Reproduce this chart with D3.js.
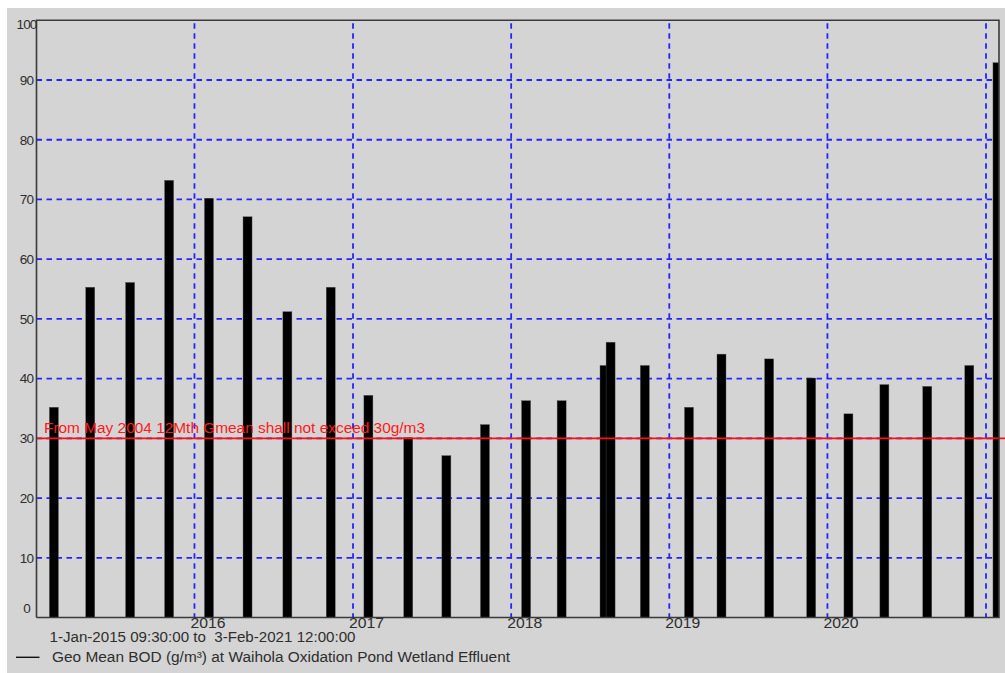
<!DOCTYPE html>
<html>
<head>
<meta charset="utf-8">
<script src="https://cdn.jsdelivr.net/npm/d3@7"></script>
<style>
  html, body { margin: 0; padding: 0; background: #ffffff; }
  svg { display: block; }
  text { font-family: "Liberation Sans", Arial, sans-serif; white-space: pre; }
</style>
</head>
<body>
<svg id="chart" width="1005" height="673"></svg>
<script>
// Sample dates (midday) and 12-month geometric mean BOD values, g/m3
const sampleDates = [
  "2015-02-10", "2015-05-05", "2015-08-05", "2015-11-03",
  "2016-02-03", "2016-05-02", "2016-08-02", "2016-11-10",
  "2017-02-05", "2017-05-08", "2017-08-04", "2017-11-01",
  "2018-02-04", "2018-04-27", "2018-08-04", "2018-08-18", "2018-11-05",
  "2019-02-15", "2019-05-01", "2019-08-19", "2019-11-24",
  "2020-02-18", "2020-05-11", "2020-08-18", "2020-11-23",
  "2021-01-27"
];
const bodValues = [
  35.2, 55.3, 56.1, 73.2,
  70.2, 67.1, 51.2, 55.3,
  37.2, 30.1, 27.1, 32.3,
  36.3, 36.3, 42.2, 46.1, 42.2,
  35.2, 44.1, 43.3, 40.1,
  34.1, 39.0, 38.7, 42.2,
  92.9
];
const yTickValues = [0, 10, 20, 30, 40, 50, 60, 70, 80, 90, 100];
const yearGridLines = ["2016-01-01", "2017-01-01", "2018-01-01", "2019-01-01", "2020-01-01", "2021-01-01"];
const yearLabels = ["2016", "2017", "2018", "2019", "2020"];
const limitValue = 30;
const limitText = "From May 2004 12Mth Gmean shall not exceed 30g/m3";
const periodText = "1-Jan-2015 09:30:00 to  3-Feb-2021 12:00:00";
const seriesName = "Geo Mean BOD (g/m\u00B3) at Waihola Oxidation Pond Wetland Effluent";
const rangeStart = "2015-01-01T09:30:00";
const rangeEnd = "2021-02-03T12:00:00";

const svg = d3.select("#chart");
const W = 1005, H = 673;
const plot = { left: 36.5, right: 1000.5, top: 20.3, bottom: 617.5 };

const parse = d3.isoParse;
const x = d3.scaleTime()
  .domain([parse(rangeStart), parse(rangeEnd)])
  .range([plot.left, plot.right]);
const y = d3.scaleLinear().domain([0, 100]).range([plot.bottom, plot.top]);

// panel background
svg.append("rect").attr("x", 7).attr("y", 8).attr("width", W - 7).attr("height", H - 8)
  .attr("fill", "#d4d4d4");

svg.append("clipPath").attr("id", "plotClip")
  .append("rect").attr("x", plot.left).attr("y", plot.top)
  .attr("width", 999 - plot.left).attr("height", plot.bottom - plot.top);

const gridColor = "#2424ff";
const grid = svg.append("g");

// horizontal grid at each y tick (except ends)
grid.selectAll("line.h").data(yTickValues.filter(v => v > 0 && v < 100)).join("line")
  .attr("x1", plot.left).attr("x2", 999)
  .attr("y1", d => y(d)).attr("y2", d => y(d))
  .attr("stroke", gridColor).attr("stroke-width", 1.8).attr("stroke-dasharray", "5.5,4.5");

// vertical grid at each year start
grid.selectAll("line.v").data(yearGridLines).join("line")
  .attr("x1", d => x(parse(d))).attr("x2", d => x(parse(d)))
  .attr("y1", plot.top + 3).attr("y2", plot.bottom)
  .attr("stroke", gridColor).attr("stroke-width", 1.8).attr("stroke-dasharray", "5.5,4.5");

// bars
const barWidth = 9;
svg.append("g").attr("clip-path", "url(#plotClip)")
  .selectAll("rect").data(sampleDates.map((d, i) => ({ date: parse(d + "T12:00:00"), value: bodValues[i] })))
  .join("rect")
  .attr("x", d => x(d.date) - barWidth / 2)
  .attr("width", barWidth)
  .attr("y", d => y(d.value))
  .attr("height", d => plot.bottom - y(d.value))
  .attr("fill", "#000000")
  .attr("stroke", "#555").attr("stroke-width", 0.4);

// consent limit line and label
svg.append("line")
  .attr("x1", plot.left).attr("x2", 1005)
  .attr("y1", y(limitValue)).attr("y2", y(limitValue))
  .attr("stroke", "#ff1010").attr("stroke-width", 1.6);
svg.append("text")
  .attr("x", 44).attr("y", y(limitValue) - 5)
  .attr("fill", "#ff1a1a").attr("font-size", 14)
  .attr("textLength", 381).attr("lengthAdjust", "spacingAndGlyphs")
  .text(limitText);

// frame
const frameColor = "#3a3a3a";
svg.append("path")
  .attr("d", `M${plot.left},${plot.bottom} V${plot.top} H999 V${plot.bottom} H${plot.left}`)
  .attr("fill", "none").attr("stroke", frameColor).attr("stroke-width", 1.6);

// y tick labels, kept inside the frame at the extremes
const textColor = "#2e2e2e";
svg.append("g").selectAll("text").data(yTickValues).join("text")
  .attr("x", 26.5)
  .attr("y", d => Math.min(Math.max(y(d), plot.top + 3.5), plot.bottom - 9.5) + 4.8)
  .attr("text-anchor", "middle")
  .attr("fill", textColor).attr("font-size", 13.5)
  .attr("letter-spacing", -0.8)
  .text(d => d);

// x tick labels at year starts
svg.append("g").selectAll("text").data(yearLabels).join("text")
  .attr("x", d => x(parse(d + "-01-01")) - 4)
  .attr("y", 628)
  .attr("fill", textColor).attr("font-size", 14)
  .attr("textLength", 35).attr("lengthAdjust", "spacingAndGlyphs")
  .text(d => d);

// period and legend
svg.append("text")
  .attr("x", 49.5).attr("y", 641.8)
  .attr("fill", textColor).attr("font-size", 14)
  .attr("textLength", 306).attr("lengthAdjust", "spacingAndGlyphs")
  .text(periodText);

svg.append("line")
  .attr("x1", 16).attr("x2", 39.5).attr("y1", 657.3).attr("y2", 657.3)
  .attr("stroke", "#111").attr("stroke-width", 1.4);
svg.append("text")
  .attr("x", 52).attr("y", 662.2)
  .attr("fill", textColor).attr("font-size", 14)
  .attr("textLength", 458).attr("lengthAdjust", "spacingAndGlyphs")
  .text(seriesName);
</script>
</body>
</html>
